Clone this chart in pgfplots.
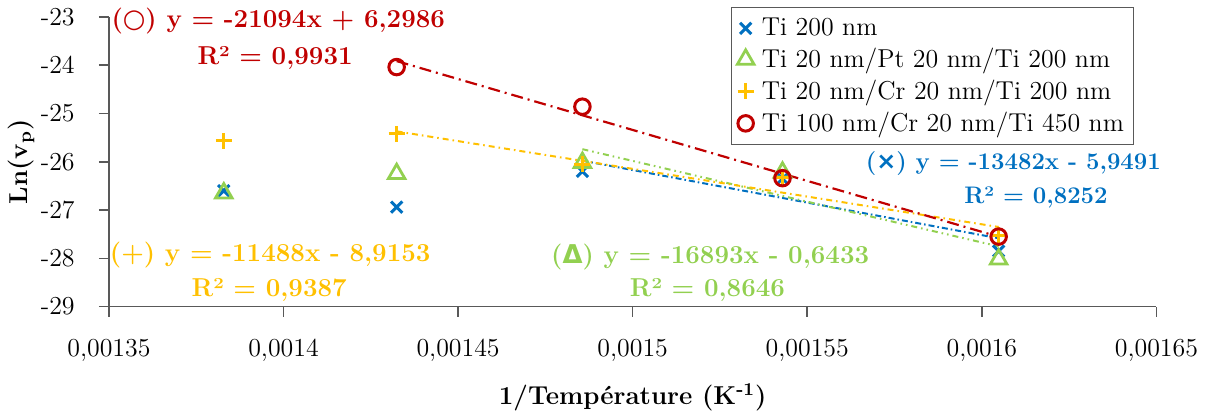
\documentclass[12pt,border=0pt]{standalone}
\usepackage{fontspec}
\newfontfamily\symfont{DejaVu Sans}
\usepackage{pgfplots}
\pgfplotsset{compat=1.18}
\definecolor{cblue}{HTML}{0070C0}
\definecolor{cgreen}{HTML}{92D050}
\definecolor{corange}{HTML}{FFC000}
\definecolor{cred}{HTML}{C00000}
\definecolor{axgray}{HTML}{595959}
\begin{document}
\begin{tikzpicture}
\begin{axis}[
  scale only axis, width=526pt, height=145.5pt,
  xmin=0.00135, xmax=0.00165, ymin=-29, ymax=-23,
  scaled x ticks=false,
  axis x line=bottom, axis y line=left,
  axis line style={-, axgray, line width=0.8pt},
  xtick={0.00135,0.0014,0.00145,0.0015,0.00155,0.0016,0.00165},
  xticklabels={{0,00135},{0,0014},{0,00145},{0,0015},{0,00155},{0,0016},{0,00165}},
  ytick={-29,-28,-27,-26,-25,-24,-23},
  yticklabels={{-29},{-28},{-27},{-26},{-25},{-24},{-23}},
  tick align=outside, major tick length=5pt,
  tick style={axgray, line width=0.8pt},
  ticklabel style={font=\fontsize{13}{15}\selectfont},
  xticklabel style={yshift=-7pt},
  yticklabel style={xshift=-8pt},
  xlabel={\textbf{1/Température (K\textsuperscript{-1})}},
  ylabel={\textbf{Ln(v\textsubscript{p})}},
  label style={font=\fontsize{13}{15}\selectfont},
  xlabel style={yshift=-3pt},
  ylabel style={yshift=-5pt},
  legend style={at={(0.979,1.033)}, anchor=north east, draw=axgray, line width=0.6pt,
    row sep=0.5pt, inner sep=3pt, font=\fontsize{13}{15}\selectfont},
  legend cell align=left,
  /tikz/every even column/.append style={column sep=0pt},
  /tikz/every odd column/.append style={column sep=2pt},
  clip=false,
]
% trend lines
\addplot[forget plot, cblue, line width=1pt, dash pattern=on 3pt off 1.5pt on 0.8pt off 1.5pt]
  coordinates {(0.0014856,-25.978) (0.0016048,-27.585)};
\addplot[forget plot, cgreen, line width=1pt, dash pattern=on 3pt off 2pt on 0.8pt off 2pt on 0.8pt off 2pt]
  coordinates {(0.0014856,-25.740) (0.0016048,-27.753)};
\addplot[forget plot, corange, line width=1pt, dash pattern=on 3pt off 2pt on 0.8pt off 2pt]
  coordinates {(0.0014324,-25.371) (0.0016048,-27.351)};
\addplot[forget plot, cred, line width=1.1pt, dash pattern=on 6pt off 2.5pt on 1pt off 2.5pt]
  coordinates {(0.0014324,-23.916) (0.0016048,-27.553)};
% data
\addplot[only marks, mark=x, mark size=4pt, cblue, line width=1.5pt]
  coordinates {(0.0013829,-26.60) (0.0014324,-26.94) (0.0014856,-26.20) (0.0015429,-26.35) (0.0016048,-27.85)};
\addlegendentry{Ti 200 nm}
\addplot[only marks, mark=triangle, mark size=4.8pt, cgreen, line width=1.4pt]
  coordinates {(0.0013829,-26.65) (0.0014324,-26.25) (0.0014856,-26.02) (0.0015429,-26.22) (0.0016048,-28.02)};
\addlegendentry{Ti 20 nm/Pt 20 nm/Ti 200 nm}
\addplot[only marks, mark=+, mark size=4pt, corange, line width=1.5pt]
  coordinates {(0.0013829,-25.57) (0.0014324,-25.42) (0.0014856,-26.05) (0.0015429,-26.32) (0.0016048,-27.52)};
\addlegendentry{Ti 20 nm/Cr 20 nm/Ti 200 nm}
\addplot[only marks, mark=o, mark size=3.9pt, cred, line width=1.5pt]
  coordinates {(0.0014324,-24.04) (0.0014856,-24.86) (0.0015429,-26.34) (0.0016048,-27.55)};
\addlegendentry{Ti 100 nm/Cr 20 nm/Ti 450 nm}
% annotations
\tikzset{ann/.style={font=\fontsize{13}{15}\selectfont\bfseries}}
\node[ann, text=cred] at (axis cs:0.0013985,-23.09) {({\symfont ○}) y = -21094x + 6,2986};
\node[ann, text=cred] at (axis cs:0.0013976,-23.85) {R² = 0,9931};
\node[ann, text=corange] at (axis cs:0.0013962,-27.93) {(+) y = -11488x - 8,9153};
\node[ann, text=corange] at (axis cs:0.0013959,-28.66) {R² = 0,9387};
\node[ann, text=cgreen] at (axis cs:0.0015222,-27.97) {({\symfont Δ}) y = -16893x - 0,6433};
\node[ann, text=cgreen] at (axis cs:0.0015214,-28.66) {R² = 0,8646};
\node[font=\fontsize{12}{14}\selectfont\bfseries, text=cblue] at (axis cs:0.0016090,-26.04) {({\symfont ×}) y = -13482x - 5,9491};
\node[font=\fontsize{12}{14}\selectfont\bfseries, text=cblue] at (axis cs:0.0016155,-26.74) {R² = 0,8252};
\end{axis}
\end{tikzpicture}
\end{document}
